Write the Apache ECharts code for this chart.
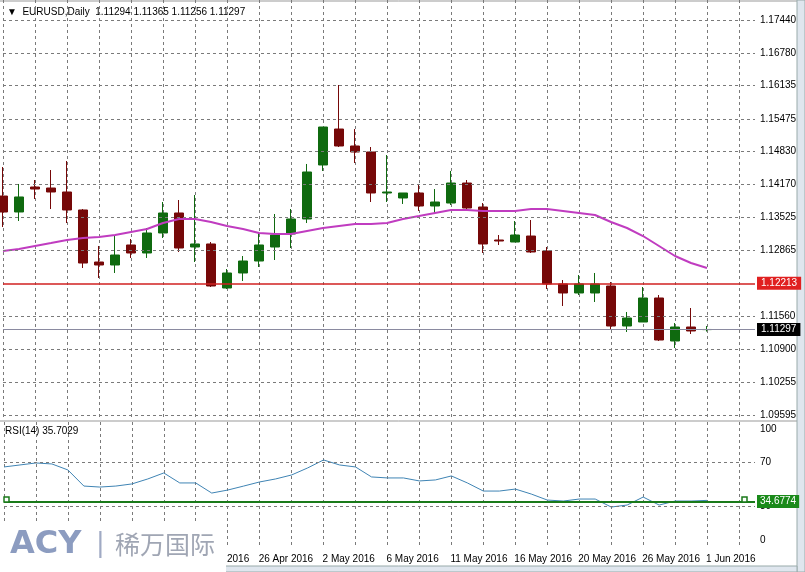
<!DOCTYPE html>
<html><head><meta charset="utf-8">
<script src="https://cdn.jsdelivr.net/npm/echarts@6/dist/echarts.min.js"></script>
<style>html,body{margin:0;padding:0;background:#fff}#c{width:805px;height:572px}</style>
</head><body><div id="c"></div>
<script>
const dates = ["4 Apr 2016","5 Apr 2016","6 Apr 2016","7 Apr 2016","8 Apr 2016","11 Apr 2016","12 Apr 2016","13 Apr 2016","14 Apr 2016","15 Apr 2016","18 Apr 2016","19 Apr 2016","20 Apr 2016","21 Apr 2016","22 Apr 2016","25 Apr 2016","26 Apr 2016","27 Apr 2016","28 Apr 2016","29 Apr 2016","2 May 2016","3 May 2016","4 May 2016","5 May 2016","6 May 2016","8 May 2016","9 May 2016","10 May 2016","11 May 2016","12 May 2016","13 May 2016","15 May 2016","16 May 2016","17 May 2016","18 May 2016","19 May 2016","20 May 2016","23 May 2016","24 May 2016","25 May 2016","26 May 2016","27 May 2016","30 May 2016","31 May 2016","1 Jun 2016","2 Jun 2016","3 Jun 2016","6 Jun 2016"];
// [open, close, low, high]
const ohlc = [
[1.13946,1.13629,1.13331,1.14522],[1.13629,1.13927,1.13450,1.14185],[1.14125,1.14085,1.13887,1.14264],[1.14105,1.14026,1.13688,1.14462],
[1.14026,1.13669,1.13410,1.14641],[1.13669,1.12616,1.12517,1.13688],[1.12636,1.12577,1.12319,1.12954],[1.12577,1.12775,1.12418,1.13152],
[1.12974,1.12815,1.12716,1.13093],[1.12815,1.13212,1.12716,1.13311],[1.13212,1.13609,1.13113,1.13827],[1.13609,1.12914,1.12835,1.13867],
[1.12934,1.12994,1.12636,1.13966],[1.12994,1.12160,1.12140,1.13033],[1.12120,1.12418,1.12100,1.12497],[1.12418,1.12656,1.12259,1.12755],
[1.12656,1.12974,1.12537,1.13212],[1.12934,1.13172,1.12676,1.13589],[1.13192,1.13490,1.12914,1.13688],[1.13490,1.14423,1.13410,1.14582],
[1.14562,1.15316,1.14443,1.15316],[1.15276,1.14939,1.14919,1.16150],[1.14939,1.14820,1.14601,1.15276],[1.14820,1.14006,1.13827,1.14919],
[1.14006,1.14026,1.13827,1.14760],[1.13907,1.14006,1.13788,1.14006],[1.14006,1.13748,1.13649,1.14185],[1.13748,1.13827,1.13609,1.14085],
[1.13807,1.14204,1.13768,1.14443],[1.14204,1.13708,1.13649,1.14264],[1.13728,1.12994,1.12815,1.13807],[1.13073,1.13053,1.12974,1.13172],
[1.13033,1.13172,1.13033,1.13450],[1.13152,1.12835,1.12815,1.13470],[1.12855,1.12200,1.12100,1.12934],[1.12200,1.12021,1.11763,1.12279],
[1.12021,1.12200,1.11981,1.12378],[1.12021,1.12200,1.11842,1.12418],[1.12160,1.11366,1.11287,1.12239],[1.11366,1.11525,1.11247,1.11644],
[1.11445,1.11922,1.11445,1.12140],[1.11922,1.11088,1.11068,1.11981],[1.11068,1.11346,1.10929,1.11425],[1.11346,1.11267,1.11207,1.11723],
[1.11294,1.11297,1.11256,1.11365]];
const ma = [1.12855,1.12894,1.12954,1.13013,1.13073,1.13113,1.13133,1.13172,1.13232,1.13291,1.13410,1.13490,1.13490,1.13430,1.13351,1.13291,1.13212,1.13192,1.13192,1.13252,1.13311,1.13351,1.13391,1.13391,1.13410,1.13490,1.13549,1.13609,1.13669,1.13669,1.13649,1.13649,1.13649,1.13688,1.13688,1.13649,1.13609,1.13569,1.13430,1.13311,1.13152,1.12954,1.12755,1.12616,1.12517];
const rsi = [65.8,67.6,69.4,68.5,63.1,48.6,47.7,48.6,50.5,55.0,60.4,51.4,51.4,42.3,45.0,48.6,52.3,55.0,58.6,64.9,72.1,67.6,65.8,56.8,55.9,55.9,53.2,54.1,57.7,51.4,44.1,44.1,45.9,41.4,36.0,35.1,36.9,36.9,29.7,31.5,38.7,31.5,35.1,35.1,35.7];
const priceTicks = [1.17440,1.16780,1.16135,1.15475,1.14830,1.14170,1.13525,1.12865,1.12213,1.11560,1.10900,1.10255,1.09595];
const rsiTicks = [0,30,70,100];
const rsiGrid = [30,70];
const supportLevel = 1.12213, lastPrice = 1.11297, rsiLevel = 34.6774;

const FONT = 'Liberation Sans';
const dash = {color:'#7a7a7a', type:[3,3], width:1};
const chart = echarts.init(document.getElementById('c'));
chart.setOption({
  animation:false,
  backgroundColor:'#fff',
  textStyle:{fontFamily:FONT},
  grid:[{left:3,right:50,top:0,height:420},{left:3,right:50,top:422,height:126}],
  xAxis:[
    {type:'category',gridIndex:0,data:dates,boundaryGap:false,axisLine:{show:false},axisTick:{show:false},axisLabel:{show:false},
     splitLine:{show:true,interval:1,lineStyle:dash}},
    {type:'category',gridIndex:1,data:dates,boundaryGap:false,axisLine:{show:false},axisTick:{show:false},
     axisLabel:{interval:(i)=>i%4===0,align:'left',margin:6,fontSize:10,color:'#000',padding:[0,0,0,-1]},
     splitLine:{show:true,interval:1,lineStyle:dash}}
  ],
  yAxis:[
    {type:'value',gridIndex:0,position:'right',min:1.09500,max:1.17837,axisLine:{show:false},axisTick:{show:false},splitLine:{show:false},
     axisLabel:{customValues:priceTicks,formatter:v=>v.toFixed(5),fontSize:10,color:'#000',align:'left',margin:5}},
    {type:'value',gridIndex:1,position:'right',min:-7.2,max:106.3,axisLine:{show:false},axisTick:{show:false},splitLine:{show:false},
     axisLabel:{customValues:rsiTicks,formatter:v=>String(v),fontSize:10,color:'#000',align:'left',margin:5}}
  ],
  series:[
    {type:'candlestick',xAxisIndex:0,yAxisIndex:0,data:ohlc,barWidth:10,
     itemStyle:{color:'#0f6a0f',color0:'#760808',borderColor:'#0f6a0f',borderColor0:'#760808',borderWidth:1},
     markLine:{silent:true,symbol:'none',precision:5,animation:false,data:priceTicks.filter(v=>v!==supportLevel).map(v=>({yAxis:v,lineStyle:dash,label:{show:false}}))}},
    {type:'line',xAxisIndex:0,yAxisIndex:0,data:ma,symbol:'none',lineStyle:{color:'#c03cc0',width:2},z:3,
     markLine:{silent:true,symbol:'none',precision:5,animation:false,data:[
       {yAxis:supportLevel,lineStyle:{color:'#d02020',width:1.5,type:'solid'},
        label:{show:true,position:'end',formatter:'1.12213',color:'#fff',backgroundColor:'#e02020',padding:[2,4,1,4],fontSize:10,distance:2}},
       {yAxis:lastPrice,lineStyle:{color:'#8a8aa0',width:1,type:'solid'},
        label:{show:true,position:'end',formatter:'1.11297',color:'#fff',backgroundColor:'#000',padding:[2,4,1,4],fontSize:10,distance:2}}]}},
    {type:'line',xAxisIndex:1,yAxisIndex:1,data:rsi,symbol:'none',lineStyle:{color:'#3f84b4',width:1},
     markLine:{silent:true,symbol:'none',precision:4,animation:false,data:[
       ...rsiGrid.map(v=>({yAxis:v,lineStyle:dash,label:{show:false}})),
       {yAxis:rsiLevel,lineStyle:{color:'#1a7a1a',width:2,type:'solid'},
        label:{show:true,position:'end',formatter:'34.6774',color:'#fff',backgroundColor:'#1a8a1a',padding:[2,3,1,3],fontSize:10,distance:2}}]}}
  ],
  graphic:[
    {type:'text',left:7,top:7,style:{text:'▼  EURUSD,Daily  1.11294 1.11365 1.11256 1.11297',fontSize:10,fill:'#000',fontFamily:FONT}},
    {type:'text',left:5,top:426,style:{text:'RSI(14) 35.7029',fontSize:10,fill:'#000',fontFamily:FONT}},
    {type:'line',shape:{x1:0,y1:421,x2:797,y2:421},style:{stroke:'#999',lineWidth:1}},
    {type:'line',shape:{x1:0,y1:1,x2:797,y2:1},style:{stroke:'#999',lineWidth:1}},
    {type:'rect',shape:{x:797,y:0,width:8,height:572},style:{fill:'#dfe6ee',stroke:'#9aa'}},
    {type:'rect',shape:{x:0,y:566,width:797,height:6},style:{fill:'#dfe6ee',stroke:'#9aa'}},
    {type:'rect',shape:{x:4,y:497,width:5,height:5},style:{fill:'#fff',stroke:'#1a7a1a',lineWidth:1.5},z:10},
    {type:'rect',shape:{x:742,y:497,width:5,height:5},style:{fill:'#fff',stroke:'#1a7a1a',lineWidth:1.5},z:10},
    {type:'rect',shape:{x:0,y:522,width:226,height:50},style:{fill:'#fff'},z:20},
    {type:'text',left:10,top:529,z:21,style:{text:'ACY',fontSize:32,fontWeight:'bold',fill:'#8c9cc0',fontFamily:'DejaVu Sans'}},
    {type:'text',left:96,top:531,z:21,style:{text:'|',fontSize:26,fill:'#a0aac4',fontFamily:'DejaVu Sans'}},
    {type:'text',left:115,top:532,z:21,style:{text:'稀万国际',fontSize:25,fill:'#a0a6b4',fontFamily:'Noto Sans CJK SC'}}
  ]
});
</script></body></html>
